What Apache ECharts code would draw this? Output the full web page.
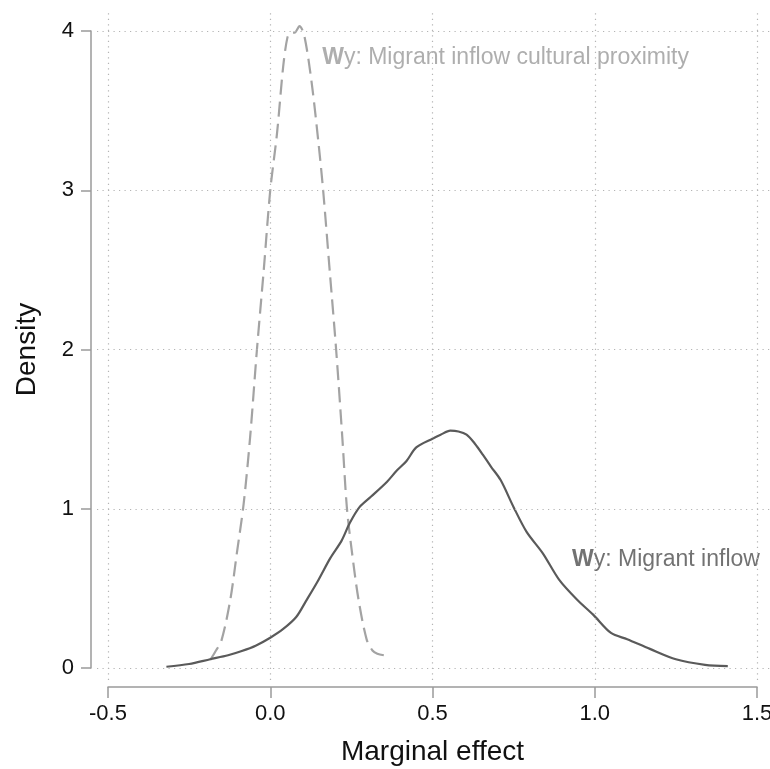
<!DOCTYPE html>
<html>
<head>
<meta charset="utf-8">
<script src="https://cdn.jsdelivr.net/npm/echarts@6/dist/echarts.min.js"></script>
<style>
html,body{margin:0;padding:0;background:#fff;}
#chart{width:770px;height:769px;}
</style>
</head>
<body>
<div id="chart"></div>
<script>
// ---- data ----
const xTicks = [-0.5, 0.0, 0.5, 1.0, 1.5];
const yTicks = [0, 1, 2, 3, 4];

// Wy: Migrant inflow (solid)
const inflowX = [-0.32,-0.25,-0.185,-0.13,-0.09,-0.045,0.0,0.04,0.08,0.11,0.145,0.185,0.22,0.245,0.275,0.31,0.36,0.39,0.42,0.45,0.50,0.525,0.555,0.58,0.605,0.63,0.655,0.68,0.71,0.75,0.79,0.84,0.89,0.945,0.995,1.05,1.10,1.17,1.25,1.34,1.41];
const inflowY = [0.008,0.025,0.055,0.08,0.105,0.14,0.19,0.245,0.32,0.42,0.54,0.69,0.80,0.91,1.01,1.075,1.17,1.24,1.30,1.385,1.44,1.465,1.49,1.485,1.465,1.41,1.34,1.265,1.18,1.01,0.855,0.72,0.555,0.43,0.335,0.22,0.18,0.12,0.055,0.02,0.012];

// Wy: Migrant inflow cultural proximity (dashed)
const cultX = [-0.185,-0.17,-0.15,-0.123,-0.103,-0.082,-0.062,-0.041,-0.02,0.0,0.021,0.04,0.053,0.063,0.075,0.09,0.105,0.128,0.149,0.163,0.183,0.203,0.222,0.236,0.251,0.272,0.297,0.315,0.33,0.35];
const cultY = [0.05,0.10,0.175,0.43,0.72,1.03,1.45,2.0,2.5,3.0,3.36,3.78,3.96,3.99,3.99,4.03,3.97,3.67,3.29,3.0,2.5,2.0,1.45,1.01,0.74,0.43,0.18,0.11,0.09,0.08];

// annotations: [x, y]
const labelCult = [0.16, 3.83];
const labelInflow = [0.93, 0.68];

// ---- layout ----
const FONT = "'Liberation Sans', Arial, Helvetica, sans-serif";
const ax = {left:108, right:13, top:31, bottom:101};   // axis-range grid
const pr = {left:97, right:0, top:10, bottom:89};      // plot region grid
const W = 770, H = 769;
const xMin = -0.5, xMax = 1.5, yMin = 0, yMax = 4;
const sx = (W - ax.left - ax.right) / (xMax - xMin);
const sy = (H - ax.top - ax.bottom) / (yMax - yMin);
const x0min = xMin - (ax.left - pr.left) / sx;
const x0max = xMax + (ax.right - pr.right) / sx;
const y0min = yMin - (ax.bottom - pr.bottom) / sy;
const y0max = yMax + (ax.top - pr.top) / sy;

const zip = (a, b) => a.map((v, i) => [v, b[i]]);

const gridStyle = {color:'#b4b4b4', width:1.2, type:[1.2, 4.3]};

const chart = echarts.init(document.getElementById('chart'), null, {renderer:'canvas'});
chart.setOption({
  animation:false,
  backgroundColor:'#fff',
  grid:[
    {left:pr.left, right:pr.right, top:pr.top, bottom:pr.bottom, containLabel:false, outerBoundsMode:'none'},
    {left:ax.left, right:ax.right, top:ax.top, bottom:ax.bottom, containLabel:false, outerBoundsMode:'none'}
  ],
  xAxis:[
    {gridIndex:0, type:'value', min:x0min, max:x0max, show:false, splitLine:{show:false}},
    {gridIndex:1, type:'value', min:xMin, max:xMax, interval:0.5, offset:19, position:'bottom',
     axisLine:{show:true, onZero:false, lineStyle:{color:'#9a9a9a', width:1.5}},
     axisTick:{show:true, length:11, lineStyle:{color:'#9a9a9a', width:1.5}},
     axisLabel:{show:true, margin:16, fontSize:22, color:'#111', fontFamily:FONT,
       formatter:v => v.toFixed(1)},
     splitLine:{show:false},
     name:'Marginal effect', nameLocation:'middle', nameGap:51,
     nameTextStyle:{fontSize:28, color:'#111', fontFamily:FONT}}
  ],
  yAxis:[
    {gridIndex:0, type:'value', min:y0min, max:y0max, show:false, splitLine:{show:false}},
    {gridIndex:1, type:'value', min:yMin, max:yMax, interval:1, offset:17, position:'left',
     axisLine:{show:true, onZero:false, lineStyle:{color:'#9a9a9a', width:1.5}},
     axisTick:{show:true, length:10, lineStyle:{color:'#9a9a9a', width:1.5}},
     axisLabel:{show:true, margin:17, fontSize:22, color:'#111', fontFamily:FONT},
     splitLine:{show:false},
     name:'Density', nameLocation:'middle', nameGap:50, nameRotate:90,
     nameTextStyle:{fontSize:28, color:'#111', fontFamily:FONT}}
  ],
  series:[
    {
      type:'line', xAxisIndex:0, yAxisIndex:0, data:[], silent:true,
      markLine:{
        silent:true, symbol:['none','none'], label:{show:false},
        lineStyle:gridStyle,
        data: xTicks.map(v => ({xAxis:v})).concat(yTicks.map(v => ({yAxis:v})))
      }
    },
    {
      name:'Wy: Migrant inflow cultural proximity',
      type:'line', xAxisIndex:0, yAxisIndex:0, showSymbol:false, smooth:0.3,
      data: zip(cultX, cultY),
      lineStyle:{color:'#a3a3a3', width:2.2, type:[15,7]}
    },
    {
      name:'Wy: Migrant inflow',
      type:'line', xAxisIndex:0, yAxisIndex:0, showSymbol:false, smooth:0.3,
      data: zip(inflowX, inflowY),
      lineStyle:{color:'#5a5a5a', width:2.2}
    },
    {
      type:'scatter', xAxisIndex:0, yAxisIndex:0, symbolSize:0, silent:true,
      data:[
        {value:labelCult, label:{formatter:'{b|W}{n|y: Migrant inflow cultural proximity}',
          rich:{b:{fontWeight:'bold', color:'#9a9a9a', fontSize:23, fontFamily:FONT},
                n:{color:'#9a9a9a', fontSize:23, fontFamily:FONT}}}},
        {value:labelInflow, label:{formatter:'{b|W}{n|y: Migrant inflow}',
          rich:{b:{fontWeight:'bold', color:'#4f4f4f', fontSize:23, fontFamily:FONT},
                n:{color:'#4f4f4f', fontSize:23, fontFamily:FONT}}}}
      ],
      label:{show:true, position:'right', distance:0, align:'left', verticalAlign:'middle'}
    }
  ]
});
</script>
</body>
</html>
